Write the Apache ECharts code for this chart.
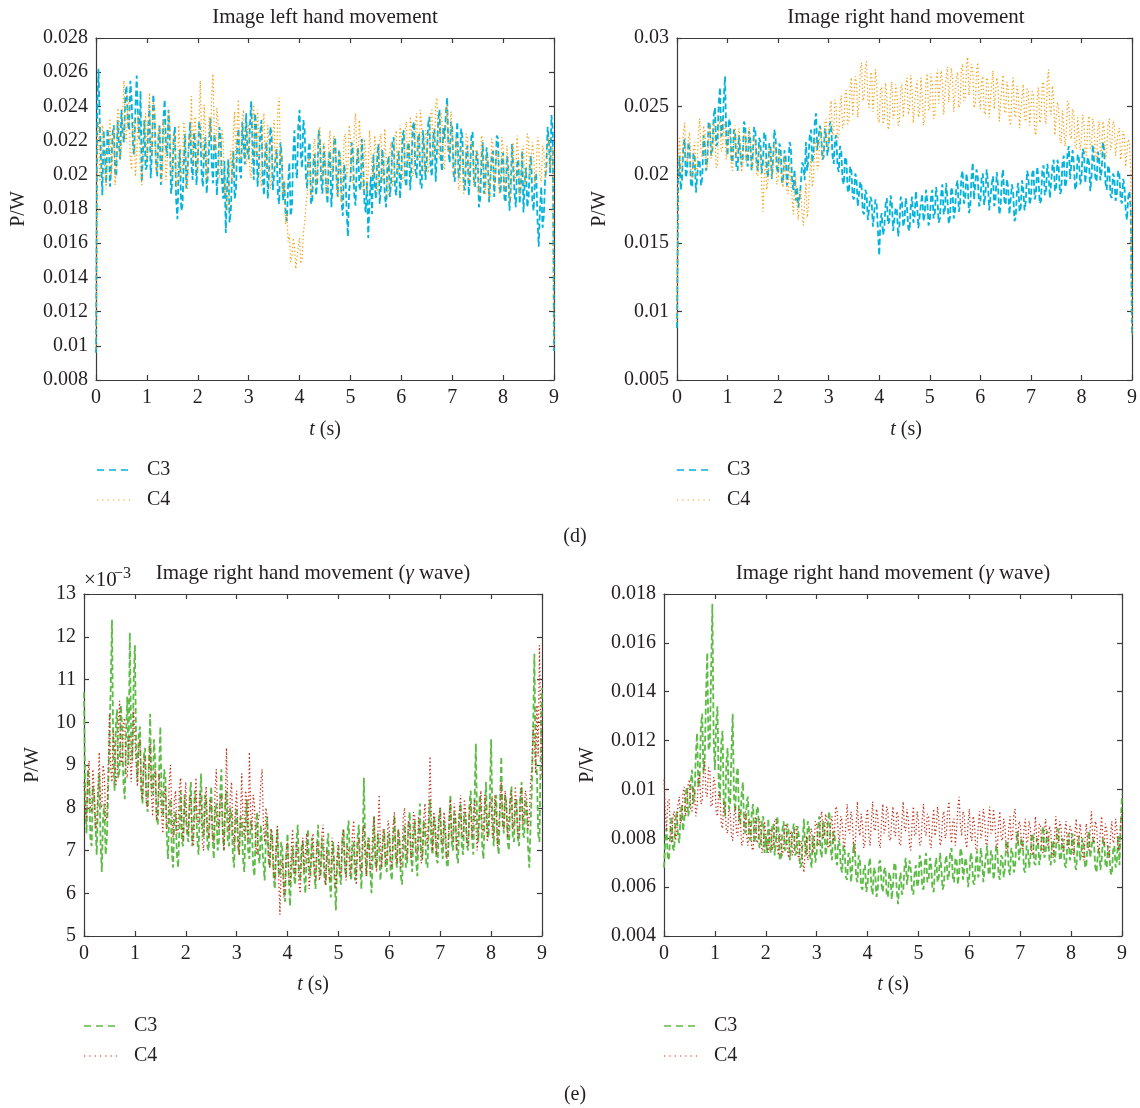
<!DOCTYPE html>
<html>
<head>
<meta charset="utf-8">
<title>Band power of C3 / C4</title>
<script src="https://cdn.jsdelivr.net/npm/echarts@6/dist/echarts.min.js"></script>
<style>
  html, body { margin: 0; padding: 0; background: #fff; }
  #chart { width: 1140px; height: 1108px; }
</style>
</head>
<body>
<div id="chart"></div>
<script>
// Sampling step of the power envelopes (seconds)
const STEP = 0.025;

// (d) Image left hand movement, P/W
const leftC3 = [
  0.0096, 0.0241, 0.0262, 0.0229, 0.0208, 0.0188, 0.0226, 0.0212, 0.0195, 0.0227,
  0.0221, 0.0193, 0.0204, 0.0224, 0.0229, 0.0201, 0.0199, 0.0232, 0.0218, 0.0209,
  0.0238, 0.0224, 0.0219, 0.0246, 0.0252, 0.0231, 0.0226, 0.0255, 0.0244, 0.0218,
  0.0212, 0.0239, 0.0258, 0.0234, 0.0221, 0.0249, 0.0196, 0.0214, 0.0232, 0.0203,
  0.0205, 0.0227, 0.0241, 0.0198, 0.0213, 0.0247, 0.0236, 0.0209, 0.0199, 0.0221,
  0.0229, 0.0194, 0.0208, 0.0233, 0.0244, 0.0216, 0.0211, 0.0238, 0.0223, 0.0189,
  0.0196, 0.0221, 0.0228, 0.0185, 0.0174, 0.0203, 0.0215, 0.0179, 0.0182, 0.0207,
  0.0224, 0.0192, 0.0203, 0.0218, 0.0231, 0.0206, 0.0197, 0.0225, 0.0219, 0.0194,
  0.0208, 0.0231, 0.0226, 0.0201, 0.0193, 0.0214, 0.0222, 0.0189, 0.0201, 0.0219,
  0.0233, 0.0207, 0.0195, 0.0224, 0.0217, 0.0188, 0.0204, 0.0228, 0.0221, 0.0197,
  0.0186, 0.0208, 0.0166, 0.0193, 0.0209, 0.0172, 0.0179, 0.0203, 0.0214, 0.0186,
  0.0191, 0.0219, 0.0227, 0.0202, 0.0198, 0.0231, 0.0218, 0.0206, 0.0236, 0.0214,
  0.0209, 0.0229, 0.0243, 0.0218, 0.0197, 0.0236, 0.0228, 0.0193, 0.0205, 0.0224,
  0.0232, 0.0199, 0.0188, 0.0213, 0.0219, 0.0186, 0.0201, 0.0228, 0.0224, 0.0191,
  0.0192, 0.0209, 0.0215, 0.0187, 0.0183, 0.0219, 0.0211, 0.0185, 0.0196, 0.0178,
  0.0173, 0.0194, 0.0207, 0.0176, 0.0181, 0.0212, 0.0226, 0.0203, 0.0198, 0.0229,
  0.0238, 0.0211, 0.0204, 0.0232, 0.0226, 0.0198, 0.0192, 0.0215, 0.0219, 0.0183,
  0.0185, 0.0208, 0.0212, 0.0188, 0.0197, 0.0226, 0.0221, 0.0196, 0.0189, 0.0217,
  0.0206, 0.0192, 0.0183, 0.0211, 0.0214, 0.0181, 0.0194, 0.0219, 0.0222, 0.0199,
  0.0187, 0.0215, 0.0209, 0.0184, 0.0176, 0.0206, 0.0201, 0.0179, 0.0164, 0.0191,
  0.0197, 0.0219, 0.0213, 0.0188, 0.0182, 0.0207, 0.0216, 0.0193, 0.0191, 0.0221,
  0.0205, 0.0184, 0.0178, 0.0196, 0.0163, 0.0185, 0.0199, 0.0177, 0.0212, 0.0194,
  0.0186, 0.0209, 0.0218, 0.0183, 0.0193, 0.0215, 0.0207, 0.0188, 0.0181, 0.0204,
  0.0211, 0.0187, 0.0196, 0.0219, 0.0222, 0.0192, 0.0188, 0.0209, 0.0214, 0.0186,
  0.0201, 0.0223, 0.0226, 0.0197, 0.0193, 0.0217, 0.0219, 0.0191, 0.0206, 0.0228,
  0.0231, 0.0203, 0.0198, 0.0221, 0.0224, 0.0194, 0.0192, 0.0226, 0.0215, 0.0197,
  0.0209, 0.0229, 0.0234, 0.0204, 0.0199, 0.0221, 0.0227, 0.0196, 0.0213, 0.0232,
  0.0238, 0.0209, 0.0202, 0.0228, 0.0221, 0.0236, 0.0245, 0.0214, 0.0207, 0.0231,
  0.0228, 0.0201, 0.0196, 0.0219, 0.0231, 0.0198, 0.0204, 0.0227, 0.0222, 0.0194,
  0.0191, 0.0213, 0.0217, 0.0188, 0.0199, 0.0222, 0.0225, 0.0197, 0.0193, 0.0214,
  0.0211, 0.0181, 0.0186, 0.0208, 0.0219, 0.0189, 0.0195, 0.0216, 0.0208, 0.0184,
  0.0183, 0.0211, 0.0214, 0.0187, 0.0201, 0.0223, 0.0221, 0.0193, 0.0189, 0.0209,
  0.0213, 0.0186, 0.0184, 0.0211, 0.0206, 0.0179, 0.0192, 0.0218, 0.0217, 0.0189,
  0.0181, 0.0206, 0.0209, 0.0183, 0.0195, 0.0214, 0.0178, 0.0196, 0.0204, 0.0181,
  0.0187, 0.0206, 0.0211, 0.0184, 0.0179, 0.0198, 0.0201, 0.0174, 0.0158, 0.0181,
  0.0193, 0.0169, 0.0176, 0.0197, 0.0205, 0.0228, 0.0219, 0.0201, 0.0235, 0.0226,
  0.0097
];
const leftC4 = [
  0.0098, 0.0224, 0.0231, 0.0196, 0.0203, 0.0229, 0.0224, 0.0201, 0.0192, 0.0213,
  0.0217, 0.0233, 0.0199, 0.0211, 0.0228, 0.0194, 0.0206, 0.0239, 0.0236, 0.0209,
  0.0214, 0.0238, 0.0255, 0.0221, 0.0219, 0.0246, 0.0241, 0.0208, 0.0203, 0.0227,
  0.0233, 0.0199, 0.0211, 0.0237, 0.0226, 0.0201, 0.0194, 0.0218, 0.0221, 0.0236,
  0.0207, 0.0229, 0.0248, 0.0216, 0.0212, 0.0243, 0.0239, 0.0204, 0.0201, 0.0225,
  0.0229, 0.0198, 0.0196, 0.0232, 0.0222, 0.0197, 0.0208, 0.0238, 0.0231, 0.0204,
  0.0199, 0.0221, 0.0224, 0.0195, 0.0193, 0.0229, 0.0217, 0.0198, 0.0204, 0.0231,
  0.0226, 0.0195, 0.0191, 0.0223, 0.0219, 0.0246, 0.0206, 0.0228, 0.0234, 0.0212,
  0.0201, 0.0231, 0.0255, 0.0219, 0.0209, 0.0241, 0.0228, 0.0197, 0.0196, 0.0234,
  0.0222, 0.0247, 0.0259, 0.0221, 0.0213, 0.0239, 0.0231, 0.0198, 0.0203, 0.0226,
  0.0219, 0.0188, 0.0195, 0.0181, 0.0178, 0.0204, 0.0214, 0.0196, 0.0226, 0.0237,
  0.0203, 0.0229, 0.0244, 0.0209, 0.0211, 0.0233, 0.0238, 0.0214, 0.0206, 0.0227,
  0.0229, 0.0201, 0.0198, 0.0232, 0.0241, 0.0214, 0.0209, 0.0238, 0.0224, 0.0199,
  0.0193, 0.0227, 0.0236, 0.0208, 0.0202, 0.0229, 0.0218, 0.0192, 0.0195, 0.0224,
  0.0232, 0.0204, 0.0207, 0.0239, 0.0245, 0.0209, 0.0213, 0.0189, 0.0196, 0.0171,
  0.0178, 0.0161, 0.0165, 0.0149, 0.0152, 0.0163, 0.0159, 0.0145, 0.0146, 0.0158,
  0.0163, 0.0148, 0.0151, 0.0166, 0.0172, 0.0182, 0.0189, 0.0211, 0.0208, 0.0187,
  0.0193, 0.0217, 0.0221, 0.0194, 0.0201, 0.0224, 0.0228, 0.0203, 0.0197, 0.0219,
  0.0215, 0.0188, 0.0192, 0.0219, 0.0226, 0.0202, 0.0199, 0.0223, 0.0218, 0.0191,
  0.0187, 0.0214, 0.0211, 0.0184, 0.0196, 0.0221, 0.0224, 0.0198, 0.0203, 0.0229,
  0.0221, 0.0198, 0.0195, 0.0228, 0.0236, 0.0211, 0.0207, 0.0232, 0.0219, 0.0194,
  0.0191, 0.0221, 0.0213, 0.0189, 0.0203, 0.0226, 0.0227, 0.0201, 0.0198, 0.0223,
  0.0216, 0.0189, 0.0193, 0.0221, 0.0224, 0.0196, 0.0201, 0.0227, 0.0211, 0.0186,
  0.0189, 0.0214, 0.0219, 0.0193, 0.0197, 0.0222, 0.0226, 0.0199, 0.0205, 0.0229,
  0.0222, 0.0196, 0.0198, 0.0226, 0.0231, 0.0204, 0.0209, 0.0234, 0.0227, 0.0199,
  0.0203, 0.0229, 0.0236, 0.0208, 0.0211, 0.0238, 0.0229, 0.0204, 0.0201, 0.0226,
  0.0224, 0.0201, 0.0206, 0.0235, 0.0238, 0.0209, 0.0213, 0.0241, 0.0245, 0.0216,
  0.0209, 0.0236, 0.0232, 0.0205, 0.0203, 0.0229, 0.0241, 0.0214, 0.0212, 0.0237,
  0.0226, 0.0201, 0.0199, 0.0222, 0.0219, 0.0191, 0.0193, 0.0217, 0.0214, 0.0189,
  0.0201, 0.0224, 0.0222, 0.0195, 0.0196, 0.0219, 0.0217, 0.0193, 0.0192, 0.0215,
  0.0213, 0.0189, 0.0197, 0.0223, 0.0221, 0.0194, 0.0188, 0.0211, 0.0209, 0.0186,
  0.0196, 0.0221, 0.0218, 0.0192, 0.0191, 0.0214, 0.0212, 0.0189, 0.0198, 0.0222,
  0.0216, 0.0191, 0.0194, 0.0217, 0.0209, 0.0184, 0.0186, 0.0212, 0.0219, 0.0196,
  0.0199, 0.0223, 0.0211, 0.0188, 0.0193, 0.0215, 0.0217, 0.0194, 0.0201, 0.0224,
  0.0221, 0.0197, 0.0198, 0.0219, 0.0212, 0.0195, 0.0203, 0.0222, 0.0219, 0.0199,
  0.0196, 0.0217, 0.0214, 0.0198, 0.0201, 0.0218, 0.0222, 0.0204, 0.0209, 0.0216,
  0.0099
];

// (d) Image right hand movement, P/W
const rightC3 = [
  0.0088, 0.0196, 0.0214, 0.0189, 0.0197, 0.0221, 0.0226, 0.0198, 0.0203, 0.0224,
  0.0219, 0.0193, 0.0191, 0.0216, 0.0213, 0.0187, 0.0186, 0.0211, 0.0209, 0.0192,
  0.0198, 0.0229, 0.0222, 0.0203, 0.0211, 0.0239, 0.0236, 0.0214, 0.0218, 0.0243,
  0.0249, 0.0221, 0.0223, 0.0252, 0.0264, 0.0228, 0.0231, 0.0256, 0.0272, 0.0226,
  0.0214, 0.0241, 0.0238, 0.0212, 0.0209, 0.0233, 0.0231, 0.0205, 0.0203, 0.0229,
  0.0228, 0.0207, 0.0212, 0.0239, 0.0236, 0.0211, 0.0206, 0.0232, 0.0226, 0.0203,
  0.0215, 0.0235, 0.0232, 0.0208, 0.0203, 0.0227, 0.0224, 0.0201, 0.0209, 0.0231,
  0.0229, 0.0204, 0.0198, 0.0223, 0.0221, 0.0197, 0.0211, 0.0233, 0.0227, 0.0205,
  0.0201, 0.0223, 0.0219, 0.0194, 0.0196, 0.0218, 0.0213, 0.0192, 0.0203, 0.0224,
  0.0221, 0.0197, 0.0189, 0.0204, 0.0181, 0.0191, 0.0176, 0.0183, 0.0194, 0.0209,
  0.0207, 0.0196, 0.0224, 0.0203, 0.0211, 0.0229, 0.0233, 0.0209, 0.0216, 0.0238,
  0.0245, 0.0218, 0.0219, 0.0236, 0.0231, 0.0211, 0.0213, 0.0234, 0.0228, 0.0214,
  0.0221, 0.0239, 0.0236, 0.0214, 0.0208, 0.0226, 0.0229, 0.0206, 0.0202, 0.0221,
  0.0217, 0.0196, 0.0193, 0.0213, 0.0211, 0.0189, 0.0187, 0.0206, 0.0203, 0.0184,
  0.0182, 0.0201, 0.0198, 0.0177, 0.0176, 0.0195, 0.0192, 0.0173, 0.0171, 0.0189,
  0.0186, 0.0167, 0.0168, 0.0184, 0.0181, 0.0162, 0.0163, 0.0182, 0.0178, 0.0159,
  0.0141, 0.0168, 0.0172, 0.0156, 0.0161, 0.0178, 0.0183, 0.0164, 0.0166, 0.0185,
  0.0179, 0.0159, 0.0158, 0.0176, 0.0174, 0.0155, 0.0163, 0.0184, 0.0181, 0.0162,
  0.0167, 0.0183, 0.0176, 0.0161, 0.0159, 0.0177, 0.0184, 0.0165, 0.0169, 0.0188,
  0.0178, 0.0161, 0.0162, 0.0179, 0.0186, 0.0166, 0.0171, 0.0189, 0.0181, 0.0163,
  0.0166, 0.0184, 0.0189, 0.0168, 0.0172, 0.0191, 0.0184, 0.0165, 0.0168, 0.0186,
  0.0193, 0.0171, 0.0175, 0.0194, 0.0182, 0.0164, 0.0169, 0.0191, 0.0187, 0.0168,
  0.0174, 0.0192, 0.0196, 0.0173, 0.0178, 0.0199, 0.0203, 0.0179, 0.0181, 0.0201,
  0.0194, 0.0172, 0.0176, 0.0198, 0.0209, 0.0182, 0.0183, 0.0204, 0.0198, 0.0177,
  0.0179, 0.0198, 0.0201, 0.0178, 0.0185, 0.0204, 0.0195, 0.0174, 0.0173, 0.0193,
  0.0199, 0.0177, 0.0181, 0.0202, 0.0192, 0.0171, 0.0176, 0.0197, 0.0204, 0.0181,
  0.0178, 0.0197, 0.0191, 0.0171, 0.0172, 0.0193, 0.0187, 0.0166, 0.0169, 0.0189,
  0.0194, 0.0173, 0.0176, 0.0196, 0.0189, 0.0174, 0.0181, 0.0203, 0.0199, 0.0178,
  0.0183, 0.0201, 0.0204, 0.0182, 0.0186, 0.0206, 0.0198, 0.0179, 0.0181, 0.0203,
  0.0207, 0.0185, 0.0189, 0.0208, 0.0201, 0.0183, 0.0184, 0.0206, 0.0211, 0.0188,
  0.0191, 0.0211, 0.0206, 0.0186, 0.0188, 0.0209, 0.0214, 0.0191, 0.0194, 0.0216,
  0.0221, 0.0197, 0.0196, 0.0218, 0.0208, 0.0189, 0.0192, 0.0215, 0.0212, 0.0193,
  0.0197, 0.0219, 0.0216, 0.0194, 0.0193, 0.0213, 0.0209, 0.0188, 0.0199, 0.0222,
  0.0221, 0.0198, 0.0195, 0.0217, 0.0212, 0.0196, 0.0203, 0.0224, 0.0218, 0.0194,
  0.0189, 0.0207, 0.0204, 0.0185, 0.0183, 0.0201, 0.0198, 0.0181, 0.0186, 0.0203,
  0.0201, 0.0182, 0.0179, 0.0197, 0.0192, 0.0174, 0.0167, 0.0184, 0.0188, 0.0175,
  0.0082
];
const rightC4 = [
  0.0093, 0.0211, 0.0227, 0.0204, 0.0201, 0.0229, 0.0238, 0.0214, 0.0209, 0.0226,
  0.0231, 0.0203, 0.0196, 0.0219, 0.0224, 0.0199, 0.0205, 0.0232, 0.0241, 0.0216,
  0.0213, 0.0236, 0.0232, 0.0209, 0.0204, 0.0227, 0.0237, 0.0212, 0.0216, 0.0239,
  0.0228, 0.0205, 0.0208, 0.0233, 0.0241, 0.0217, 0.0219, 0.0238, 0.0234, 0.0211,
  0.0211, 0.0233, 0.0229, 0.0206, 0.0203, 0.0226, 0.0236, 0.0213, 0.0214, 0.0234,
  0.0225, 0.0202, 0.0207, 0.0229, 0.0231, 0.0209, 0.0218, 0.0235, 0.0226, 0.0204,
  0.0206, 0.0228, 0.0223, 0.0201, 0.0199, 0.0221, 0.0218, 0.0192, 0.0173, 0.0198,
  0.0212, 0.0189, 0.0196, 0.0219, 0.0221, 0.0198, 0.0203, 0.0224, 0.0215, 0.0193,
  0.0197, 0.0218, 0.0219, 0.0196, 0.0191, 0.0214, 0.0213, 0.0188, 0.0186, 0.0209,
  0.0208, 0.0184, 0.0171, 0.0193, 0.0199, 0.0176, 0.0167, 0.0186, 0.0189, 0.0171,
  0.0163, 0.0181, 0.0194, 0.0169, 0.0176, 0.0201, 0.0212, 0.0191, 0.0198, 0.0221,
  0.0226, 0.0204, 0.0207, 0.0229, 0.0234, 0.0211, 0.0216, 0.0238, 0.0241, 0.0219,
  0.0223, 0.0246, 0.0254, 0.0229, 0.0231, 0.0255, 0.0249, 0.0226, 0.0228, 0.0251,
  0.0258, 0.0234, 0.0236, 0.0259, 0.0262, 0.0237, 0.0239, 0.0264, 0.0271, 0.0243,
  0.0244, 0.0272, 0.0268, 0.0242, 0.0251, 0.0276, 0.0282, 0.0254, 0.0257, 0.0279,
  0.0283, 0.0255, 0.0249, 0.0273, 0.0275, 0.0246, 0.0258, 0.0277, 0.0267, 0.0241,
  0.0238, 0.0262, 0.0264, 0.0237, 0.0242, 0.0267, 0.0259, 0.0233, 0.0236, 0.0261,
  0.0268, 0.0241, 0.0245, 0.0266, 0.0261, 0.0236, 0.0239, 0.0263, 0.0266, 0.0242,
  0.0243, 0.0266, 0.0271, 0.0244, 0.0248, 0.0273, 0.0262, 0.0238, 0.0237, 0.0264,
  0.0269, 0.0242, 0.0246, 0.0271, 0.0258, 0.0236, 0.0241, 0.0267, 0.0274, 0.0247,
  0.0249, 0.0274, 0.0266, 0.0241, 0.0243, 0.0269, 0.0277, 0.0252, 0.0251, 0.0276,
  0.0268, 0.0244, 0.0245, 0.0272, 0.0279, 0.0253, 0.0254, 0.0278, 0.0271, 0.0246,
  0.0247, 0.0271, 0.0275, 0.0249, 0.0252, 0.0278, 0.0281, 0.0254, 0.0256, 0.0279,
  0.0286, 0.0258, 0.0259, 0.0281, 0.0277, 0.0249, 0.0251, 0.0276, 0.0282, 0.0255,
  0.0248, 0.0269, 0.0272, 0.0246, 0.0244, 0.0271, 0.0269, 0.0242, 0.0241, 0.0266,
  0.0276, 0.0248, 0.0249, 0.0271, 0.0265, 0.0239, 0.0238, 0.0264, 0.0273, 0.0247,
  0.0245, 0.0268, 0.0263, 0.0239, 0.0236, 0.0262, 0.0271, 0.0244, 0.0242, 0.0265,
  0.0259, 0.0234, 0.0233, 0.0258, 0.0266, 0.0241, 0.0239, 0.0263, 0.0261, 0.0236,
  0.0235, 0.0261, 0.0259, 0.0232, 0.0229, 0.0255, 0.0264, 0.0238, 0.0241, 0.0266,
  0.0268, 0.0242, 0.0237, 0.0269, 0.0277, 0.0248, 0.0244, 0.0265, 0.0256, 0.0229,
  0.0228, 0.0253, 0.0249, 0.0225, 0.0223, 0.0247, 0.0246, 0.0221, 0.0231, 0.0254,
  0.0252, 0.0229, 0.0226, 0.0248, 0.0244, 0.0221, 0.0219, 0.0242, 0.0241, 0.0218,
  0.0226, 0.0244, 0.0238, 0.0216, 0.0214, 0.0237, 0.0243, 0.0219, 0.0221, 0.0241,
  0.0236, 0.0213, 0.0211, 0.0234, 0.0239, 0.0215, 0.0218, 0.0239, 0.0233, 0.0212,
  0.0216, 0.0236, 0.0241, 0.0218, 0.0222, 0.0239, 0.0237, 0.0214, 0.0213, 0.0231,
  0.0234, 0.0211, 0.0219, 0.0232, 0.0228, 0.0206, 0.0207, 0.0226, 0.0224, 0.0203,
  0.0083
];

// (e) Image right hand movement, gamma wave, P/W in units of 1e-3
const gammaAC3 = [
  10.7, 8.1, 7.4, 8.9, 8.6, 7.3, 7.1, 8.5, 8.3, 7.6,
  6.9, 8.2, 8.8, 7.2, 6.5, 7.8, 8.1, 6.9, 7.3, 8.4,
  9.6, 10.8, 12.4, 9.3, 8.4, 9.9, 10.3, 8.7, 8.9, 10.4,
  9.8, 8.6, 8.2, 9.5, 10.6, 9.0, 12.1, 9.7, 9.1, 10.9,
  11.8, 9.4, 8.6, 9.7, 9.9, 8.4, 8.1, 9.2, 9.4, 8.2,
  7.9, 9.0, 10.2, 8.5, 8.3, 9.6, 9.1, 7.8, 7.6, 8.8,
  9.9, 8.2, 7.8, 8.9, 8.7, 7.4, 6.8, 7.9, 8.2, 7.0,
  6.6, 7.7, 7.9, 6.9, 6.6, 7.5, 8.4, 7.2, 7.1, 8.3,
  8.3, 7.4, 7.2, 8.2, 8.6, 7.1, 7.4, 8.4, 8.1, 7.3,
  6.9, 7.9, 8.8, 7.6, 7.3, 8.3, 8.2, 7.1, 7.0, 8.0,
  8.5, 7.4, 6.8, 7.9, 8.1, 7.0, 7.2, 8.3, 8.9, 7.5,
  7.0, 8.1, 8.4, 7.2, 7.1, 8.0, 7.8, 6.9, 6.6, 7.7,
  8.0, 7.1, 6.9, 7.8, 7.7, 6.8, 6.5, 7.6, 8.2, 7.0,
  6.8, 7.7, 7.5, 6.6, 6.4, 7.4, 7.9, 6.9, 6.7, 7.6,
  7.6, 6.7, 6.3, 7.3, 7.8, 6.8, 6.6, 7.5, 7.3, 6.4,
  6.1, 7.0, 7.5, 6.5, 6.4, 7.2, 7.0, 6.2, 5.8, 6.9,
  7.4, 6.3, 5.7, 6.6, 7.1, 6.4, 6.2, 7.2, 7.6, 6.5,
  6.3, 7.1, 7.2, 6.4, 6.0, 6.9, 7.5, 6.6, 6.4, 7.3,
  7.3, 6.5, 6.1, 7.0, 7.6, 6.6, 6.4, 7.3, 7.0, 6.3,
  6.2, 7.1, 7.4, 6.4, 5.9, 6.8, 7.2, 6.3, 5.6, 6.7,
  7.1, 6.4, 6.2, 7.2, 7.5, 6.6, 6.4, 7.4, 7.7, 6.8,
  6.3, 7.1, 7.2, 6.3, 6.5, 7.3, 7.6, 6.7, 6.1, 7.0,
  8.7, 7.2, 6.4, 7.1, 7.3, 6.5, 6.0, 6.9, 7.8, 6.7,
  6.6, 7.4, 7.1, 6.3, 6.3, 7.2, 7.5, 6.6, 6.5, 7.3,
  7.4, 6.5, 6.3, 7.3, 7.8, 6.8, 6.6, 7.5, 7.2, 6.4,
  6.2, 7.1, 7.6, 6.6, 6.7, 7.6, 7.9, 6.9, 6.5, 7.4,
  7.7, 6.8, 6.4, 7.4, 8.1, 7.0, 6.8, 7.7, 7.5, 6.7,
  6.6, 7.6, 8.2, 7.1, 6.9, 7.8, 7.6, 6.8, 6.7, 7.7,
  8.0, 7.1, 6.8, 7.7, 7.4, 6.7, 6.6, 7.6, 8.3, 7.2,
  7.0, 7.9, 7.7, 6.9, 6.7, 7.8, 8.1, 7.1, 6.9, 7.9,
  7.8, 7.1, 7.0, 8.1, 8.4, 7.3, 6.9, 8.2, 9.5, 7.6,
  7.2, 8.3, 8.0, 7.1, 6.8, 7.9, 8.6, 7.4, 7.3, 8.2,
  9.6, 7.8, 7.1, 8.0, 8.3, 7.2, 6.9, 8.1, 9.2, 7.7,
  7.4, 8.3, 8.1, 7.2, 7.0, 8.2, 8.5, 7.3, 7.2, 8.1,
  8.2, 7.3, 7.1, 8.3, 8.6, 7.4, 7.3, 8.2, 8.0, 7.1,
  6.6, 7.6, 8.4, 9.8, 11.6, 9.1, 8.8, 7.4, 7.2, 9.3,
  10.8
];
const gammaAC4 = [
  8.6, 7.9, 7.7, 8.7, 9.1, 8.0, 7.9, 8.9, 8.4, 7.5,
  7.6, 8.5, 9.3, 8.1, 8.0, 9.0, 8.8, 7.7, 7.8, 8.9,
  10.2, 8.9, 8.6, 9.8, 9.4, 8.5, 8.8, 9.9, 10.5, 9.1,
  9.0, 10.0, 10.1, 8.8, 8.7, 9.6, 9.7, 8.6, 9.2, 10.3,
  10.3, 9.0, 8.5, 9.4, 9.6, 8.4, 8.2, 9.1, 9.2, 8.1,
  8.0, 8.9, 9.5, 8.3, 7.8, 8.7, 8.9, 7.7, 7.9, 8.8,
  8.8, 7.8, 7.4, 8.3, 8.5, 7.5, 7.6, 8.6, 9.0, 7.9,
  7.3, 8.2, 8.4, 7.4, 7.5, 8.5, 8.7, 7.6, 7.2, 8.1,
  8.6, 7.5, 7.4, 8.2, 8.3, 7.3, 7.1, 8.0, 8.7, 7.7,
  7.6, 8.4, 8.2, 7.2, 7.0, 7.9, 8.5, 7.6, 7.3, 8.2,
  8.1, 7.3, 7.2, 8.4, 8.9, 7.8, 7.5, 8.2, 8.3, 7.4,
  7.0, 8.0, 9.4, 8.1, 7.4, 8.3, 8.6, 7.5, 7.1, 8.0,
  8.4, 7.4, 6.9, 7.8, 8.8, 7.6, 7.3, 8.4, 8.2, 7.2,
  9.3, 7.9, 7.5, 8.3, 8.1, 7.1, 6.9, 7.7, 7.9, 8.6,
  8.9, 7.6, 7.2, 8.0, 7.8, 6.9, 6.6, 7.5, 7.4, 6.5,
  6.3, 7.1, 7.6, 6.4, 5.5, 6.6, 6.8, 5.9, 6.1, 7.0,
  7.2, 6.4, 6.2, 7.1, 7.5, 6.6, 6.4, 7.2, 7.0, 6.2,
  6.0, 6.9, 7.3, 6.5, 6.5, 7.4, 6.9, 6.1, 6.1, 7.0,
  7.4, 6.6, 6.3, 7.2, 7.1, 6.3, 6.5, 7.4, 7.6, 6.7,
  6.2, 7.0, 7.0, 6.3, 6.4, 7.3, 7.3, 6.5, 6.1, 6.9,
  7.2, 6.5, 6.4, 7.3, 7.5, 6.7, 6.3, 7.1, 7.0, 6.4,
  6.6, 7.4, 7.7, 6.8, 6.2, 7.0, 7.3, 6.6, 6.5, 7.4,
  7.6, 6.8, 6.4, 7.3, 7.2, 6.5, 6.7, 7.5, 7.8, 6.9,
  6.5, 7.4, 8.3, 7.1, 6.6, 7.5, 7.4, 6.7, 6.8, 7.7,
  7.5, 6.8, 6.6, 7.6, 7.9, 7.0, 6.7, 7.5, 7.3, 6.6,
  6.9, 7.8, 8.0, 7.1, 6.8, 7.7, 7.6, 6.8, 7.0, 7.9,
  7.8, 7.0, 6.9, 7.8, 7.4, 6.7, 6.8, 7.7, 8.1, 7.3,
  7.1, 8.0, 9.2, 7.8, 7.0, 7.9, 7.7, 6.9, 6.9, 7.8,
  8.0, 7.2, 7.1, 7.9, 7.6, 6.8, 6.9, 7.8, 8.2, 7.3,
  7.2, 8.1, 7.8, 7.0, 7.0, 7.9, 8.3, 7.4, 7.3, 8.2,
  7.9, 7.2, 7.1, 8.0, 8.1, 7.3, 7.3, 8.2, 7.7, 7.0,
  7.0, 7.9, 8.4, 7.5, 7.4, 8.3, 8.0, 7.2, 7.2, 8.1,
  8.2, 7.3, 7.4, 8.3, 7.9, 7.1, 7.1, 8.0, 8.6, 7.6,
  7.5, 8.4, 8.1, 7.3, 7.3, 8.2, 8.4, 7.5, 7.6, 8.5,
  8.0, 7.3, 7.4, 8.3, 8.5, 7.6, 7.6, 8.4, 8.2, 7.5,
  7.8, 8.6, 8.9, 9.9, 9.6, 8.8, 10.4, 9.2, 11.8, 10.1,
  8.7
];

// (e) Image right hand movement, gamma wave, P/W
const gammaBC3 = [
  0.0068, 0.0079, 0.0084, 0.0071, 0.0072, 0.0083, 0.0089, 0.0076, 0.0075, 0.0087,
  0.0091, 0.0081, 0.0078, 0.0089, 0.0094, 0.0083, 0.0088, 0.0098, 0.0101, 0.0089,
  0.0092, 0.0103, 0.0108, 0.0094, 0.0097, 0.0114, 0.0123, 0.0101, 0.0104, 0.0126,
  0.0131, 0.0107, 0.0112, 0.0138, 0.0156, 0.0116, 0.0118, 0.0147, 0.0176, 0.0121,
  0.0108, 0.0127, 0.0134, 0.0103, 0.0096, 0.0119, 0.0124, 0.0094, 0.0089, 0.0111,
  0.0117, 0.0092, 0.0093, 0.0115, 0.0131, 0.0097, 0.0091, 0.0106, 0.0109, 0.0088,
  0.0086, 0.0098, 0.0103, 0.0084, 0.0082, 0.0095, 0.0097, 0.0081, 0.0079, 0.0091,
  0.0094, 0.0078, 0.0081, 0.0093, 0.0092, 0.0076, 0.0077, 0.0088, 0.0089, 0.0074,
  0.0081, 0.0074, 0.0088, 0.0077, 0.0074, 0.0085, 0.0086, 0.0073, 0.0079, 0.0089,
  0.0084, 0.0071, 0.0072, 0.0083, 0.0087, 0.0075, 0.0076, 0.0086, 0.0083, 0.0071,
  0.0071, 0.0082, 0.0086, 0.0073, 0.0074, 0.0085, 0.0081, 0.0068, 0.0069, 0.0079,
  0.0088, 0.0075, 0.0073, 0.0087, 0.0084, 0.0072, 0.0068, 0.0081, 0.0079, 0.0070,
  0.0074, 0.0084, 0.0089, 0.0075, 0.0072, 0.0087, 0.0085, 0.0073, 0.0077, 0.0088,
  0.0091, 0.0076, 0.0071, 0.0082, 0.0083, 0.0071, 0.0069, 0.0079, 0.0078, 0.0068,
  0.0066, 0.0077, 0.0075, 0.0064, 0.0063, 0.0074, 0.0073, 0.0062, 0.0068, 0.0078,
  0.0076, 0.0064, 0.0062, 0.0073, 0.0071, 0.0060, 0.0059, 0.0068, 0.0069, 0.0058,
  0.0061, 0.0069, 0.0072, 0.0060, 0.0057, 0.0068, 0.0066, 0.0056, 0.0059, 0.0070,
  0.0071, 0.0061, 0.0058, 0.0067, 0.0068, 0.0057, 0.0056, 0.0066, 0.0064, 0.0055,
  0.0061, 0.0070, 0.0069, 0.0058, 0.0053, 0.0062, 0.0066, 0.0057, 0.0058, 0.0068,
  0.0072, 0.0061, 0.0061, 0.0071, 0.0067, 0.0058, 0.0057, 0.0066, 0.0069, 0.0060,
  0.0062, 0.0073, 0.0071, 0.0060, 0.0059, 0.0070, 0.0074, 0.0062, 0.0063, 0.0072,
  0.0069, 0.0059, 0.0058, 0.0068, 0.0072, 0.0062, 0.0064, 0.0074, 0.0068, 0.0059,
  0.0061, 0.0070, 0.0073, 0.0063, 0.0065, 0.0075, 0.0076, 0.0064, 0.0062, 0.0072,
  0.0071, 0.0061, 0.0066, 0.0076, 0.0074, 0.0063, 0.0063, 0.0072, 0.0069, 0.0060,
  0.0064, 0.0074, 0.0072, 0.0062, 0.0061, 0.0070, 0.0075, 0.0064, 0.0066, 0.0076,
  0.0071, 0.0062, 0.0062, 0.0073, 0.0077, 0.0066, 0.0065, 0.0075, 0.0073, 0.0063,
  0.0067, 0.0077, 0.0075, 0.0065, 0.0063, 0.0073, 0.0072, 0.0064, 0.0068, 0.0079,
  0.0078, 0.0067, 0.0065, 0.0076, 0.0074, 0.0066, 0.0069, 0.0079, 0.0083, 0.0071,
  0.0071, 0.0080, 0.0078, 0.0067, 0.0066, 0.0077, 0.0076, 0.0068, 0.0072, 0.0082,
  0.0081, 0.0070, 0.0069, 0.0080, 0.0079, 0.0069, 0.0073, 0.0081, 0.0085, 0.0072,
  0.0074, 0.0083, 0.0081, 0.0071, 0.0069, 0.0078, 0.0079, 0.0070, 0.0075, 0.0084,
  0.0083, 0.0072, 0.0071, 0.0080, 0.0078, 0.0069, 0.0068, 0.0077, 0.0082, 0.0071,
  0.0073, 0.0082, 0.0079, 0.0069, 0.0067, 0.0076, 0.0081, 0.0071, 0.0074, 0.0080,
  0.0077, 0.0068, 0.0069, 0.0079, 0.0083, 0.0072, 0.0072, 0.0080, 0.0078, 0.0068,
  0.0066, 0.0074, 0.0076, 0.0067, 0.0071, 0.0080, 0.0079, 0.0069, 0.0068, 0.0077,
  0.0074, 0.0066, 0.0065, 0.0075, 0.0077, 0.0068, 0.0071, 0.0081, 0.0069, 0.0086,
  0.0098
];
const gammaBC4 = [
  0.0104, 0.0091, 0.0083, 0.0095, 0.0096, 0.0084, 0.0078, 0.0089, 0.0091, 0.0079,
  0.0082, 0.0094, 0.0097, 0.0086, 0.0088, 0.0099, 0.0101, 0.0089, 0.0093, 0.0102,
  0.0104, 0.0092, 0.0091, 0.0101, 0.0099, 0.0089, 0.0093, 0.0104, 0.0106, 0.0094,
  0.0095, 0.0107, 0.0112, 0.0098, 0.0097, 0.0109, 0.0108, 0.0093, 0.0094, 0.0105,
  0.0103, 0.0091, 0.0089, 0.0099, 0.0097, 0.0086, 0.0084, 0.0095, 0.0094, 0.0083,
  0.0082, 0.0092, 0.0091, 0.0081, 0.0079, 0.0089, 0.0093, 0.0082, 0.0081, 0.0092,
  0.0088, 0.0077, 0.0078, 0.0087, 0.0091, 0.0081, 0.0077, 0.0088, 0.0086, 0.0076,
  0.0075, 0.0085, 0.0089, 0.0078, 0.0079, 0.0088, 0.0085, 0.0074, 0.0076, 0.0087,
  0.0087, 0.0076, 0.0074, 0.0083, 0.0084, 0.0075, 0.0078, 0.0087, 0.0088, 0.0077,
  0.0073, 0.0082, 0.0082, 0.0073, 0.0076, 0.0085, 0.0086, 0.0075, 0.0072, 0.0081,
  0.0083, 0.0073, 0.0075, 0.0084, 0.0085, 0.0074, 0.0071, 0.0078, 0.0079, 0.0070,
  0.0066, 0.0075, 0.0081, 0.0071, 0.0073, 0.0083, 0.0084, 0.0074, 0.0077, 0.0087,
  0.0086, 0.0077, 0.0078, 0.0088, 0.0091, 0.0080, 0.0081, 0.0090, 0.0087, 0.0076,
  0.0077, 0.0086, 0.0089, 0.0078, 0.0083, 0.0093, 0.0092, 0.0081, 0.0079, 0.0089,
  0.0087, 0.0078, 0.0076, 0.0086, 0.0094, 0.0083, 0.0082, 0.0091, 0.0088, 0.0077,
  0.0074, 0.0085, 0.0095, 0.0084, 0.0081, 0.0090, 0.0086, 0.0076, 0.0078, 0.0089,
  0.0092, 0.0081, 0.0077, 0.0087, 0.0095, 0.0084, 0.0083, 0.0092, 0.0089, 0.0078,
  0.0076, 0.0087, 0.0094, 0.0082, 0.0084, 0.0093, 0.0091, 0.0080, 0.0079, 0.0088,
  0.0093, 0.0082, 0.0081, 0.0091, 0.0089, 0.0078, 0.0077, 0.0087, 0.0095, 0.0084,
  0.0083, 0.0092, 0.0088, 0.0077, 0.0075, 0.0086, 0.0093, 0.0081, 0.0082, 0.0091,
  0.0087, 0.0077, 0.0078, 0.0088, 0.0094, 0.0083, 0.0081, 0.0090, 0.0089, 0.0078,
  0.0076, 0.0086, 0.0092, 0.0081, 0.0084, 0.0093, 0.0088, 0.0077, 0.0079, 0.0089,
  0.0091, 0.0080, 0.0082, 0.0092, 0.0095, 0.0083, 0.0078, 0.0087, 0.0088, 0.0077,
  0.0084, 0.0093, 0.0097, 0.0085, 0.0081, 0.0091, 0.0089, 0.0079, 0.0076, 0.0086,
  0.0092, 0.0081, 0.0079, 0.0089, 0.0086, 0.0076, 0.0075, 0.0085, 0.0091, 0.0080,
  0.0082, 0.0092, 0.0088, 0.0078, 0.0077, 0.0087, 0.0093, 0.0082, 0.0083, 0.0092,
  0.0087, 0.0078, 0.0076, 0.0086, 0.0091, 0.0080, 0.0079, 0.0088, 0.0085, 0.0075,
  0.0074, 0.0084, 0.0089, 0.0079, 0.0081, 0.0090, 0.0092, 0.0080, 0.0078, 0.0087,
  0.0086, 0.0077, 0.0075, 0.0084, 0.0088, 0.0078, 0.0079, 0.0087, 0.0084, 0.0074,
  0.0073, 0.0082, 0.0089, 0.0079, 0.0077, 0.0086, 0.0085, 0.0075, 0.0074, 0.0083,
  0.0088, 0.0078, 0.0076, 0.0085, 0.0083, 0.0074, 0.0072, 0.0081, 0.0089, 0.0079,
  0.0078, 0.0087, 0.0085, 0.0076, 0.0074, 0.0083, 0.0087, 0.0077, 0.0076, 0.0085,
  0.0084, 0.0075, 0.0073, 0.0082, 0.0088, 0.0078, 0.0077, 0.0086, 0.0082, 0.0073,
  0.0071, 0.0080, 0.0086, 0.0077, 0.0075, 0.0084, 0.0091, 0.0080, 0.0078, 0.0087,
  0.0085, 0.0076, 0.0074, 0.0083, 0.0089, 0.0079, 0.0077, 0.0086, 0.0083, 0.0073,
  0.0072, 0.0081, 0.0087, 0.0078, 0.0079, 0.0088, 0.0084, 0.0075, 0.0076, 0.0086,
  0.0091
];

// Axis ranges: [min, max, interval]
const timeRange = [0, 9, 1];
const leftRange = [0.008, 0.028, 0.002];
const rightRange = [0.005, 0.03, 0.005];
const gammaARange = [5, 13, 1];
const gammaBRange = [0.004, 0.018, 0.002];

const SERIF = '"Liberation Serif", "DejaVu Serif", serif';
const INK = '#231f20';
const COLORS = { c3: '#03b3dc', c4: '#f7a21b', g3: '#5dbb46', g4: '#c1331c' };

const panels = [
  { left: 96,  top: 38,  y: leftRange,   c3: leftC3,   c4: leftC4,   col3: COLORS.c3, col4: COLORS.c4 },
  { left: 677, top: 38,  y: rightRange,  c3: rightC3,  c4: rightC4,  col3: COLORS.c3, col4: COLORS.c4 },
  { left: 84,  top: 594, y: gammaARange, c3: gammaAC3, c4: gammaAC4, col3: COLORS.g3, col4: COLORS.g4 },
  { left: 664, top: 594, y: gammaBRange, c3: gammaBC3, c4: gammaBC4, col3: COLORS.g3, col4: COLORS.g4 }
];
const PW = 458, PH = 342;

const toPairs = vals => vals.map((v, i) => [i * STEP, v]);

const grid = [], xAxis = [], yAxis = [], series = [];
const axisLine = { show: true, onZero: false, lineStyle: { color: '#3a3a3a', width: 1.2 } };
const tick = { show: true, inside: true, length: 5, lineStyle: { color: '#3a3a3a', width: 1.2 } };
const label = { fontFamily: SERIF, fontSize: 20, color: INK };

panels.forEach((p, gi) => {
  grid.push({ left: p.left, top: p.top, width: PW, height: PH, containLabel: false });
  ['bottom', 'top'].forEach((pos, k) => {
    xAxis.push({
      gridIndex: gi, type: 'value', position: pos,
      min: timeRange[0], max: timeRange[1], interval: timeRange[2],
      axisLine, axisTick: tick, splitLine: { show: false },
      axisLabel: k === 0 ? Object.assign({ margin: 8 }, label) : { show: false }
    });
  });
  ['left', 'right'].forEach((pos, k) => {
    yAxis.push({
      gridIndex: gi, type: 'value', position: pos,
      min: p.y[0], max: p.y[1], interval: p.y[2],
      axisLine, axisTick: tick, splitLine: { show: false },
      axisLabel: k === 0 ? Object.assign({ margin: 8 }, label) : { show: false }
    });
  });
  const base = { type: 'line', xAxisIndex: gi * 2, yAxisIndex: gi * 2, showSymbol: false,
                 symbol: 'none', silent: true, animation: false, sampling: null };
  series.push(Object.assign({}, base, {
    name: 'C3', data: toPairs(p.c3),
    lineStyle: { color: p.col3, width: 1.8, type: [6, 3] }
  }));
  series.push(Object.assign({}, base, {
    name: 'C4', data: toPairs(p.c4),
    lineStyle: { color: p.col4, width: 1.3, type: [1.3, 2.5] }
  }));
});

// Text helpers
function txt(x, y, text, opts) {
  return Object.assign({
    type: 'text', x, y, silent: true,
    style: Object.assign({
      text, font: '20px ' + SERIF, fill: INK,
      textAlign: 'center', textVerticalAlign: 'middle',
      align: 'center', verticalAlign: 'middle'
    }, (opts && opts.style) || {})
  }, (opts && opts.el) || {});
}
const italicRich = { i: { fontStyle: 'italic', fontFamily: SERIF, fontSize: 20, fill: INK } };
const italicRichT = { i: { fontStyle: 'italic', fontFamily: SERIF, fontSize: 21, fill: INK } };

const graphic = [];
// Panel titles
graphic.push(txt(325, 17, 'Image left hand movement', { style: { font: '21px ' + SERIF } }));
graphic.push(txt(906, 17, 'Image right hand movement', { style: { font: '21px ' + SERIF } }));
graphic.push(txt(313, 573, 'Image right hand movement ({i|γ} wave)', { style: { font: '21px ' + SERIF, rich: italicRichT } }));
graphic.push(txt(893, 573, 'Image right hand movement ({i|γ} wave)', { style: { font: '21px ' + SERIF, rich: italicRichT } }));
// Axis names
[[325, 430], [906, 430], [313, 985], [893, 985]].forEach(([x, y]) =>
  graphic.push(txt(x, y, '{i|t} (s)', { style: { rich: italicRich } })));
[[19, 209], [600, 209], [33, 765], [588, 765]].forEach(([x, y]) =>
  graphic.push(txt(x, y, 'P/W', { el: { rotation: Math.PI / 2 } })));
// Exponent of the gamma (a) axis
graphic.push(txt(84, 580, '×10', { style: { textAlign: 'left', align: 'left', font: '21px ' + SERIF } }));
graphic.push(txt(114, 574, '−3', { style: { textAlign: 'left', align: 'left', font: '16px ' + SERIF } }));
// Sub-figure tags
graphic.push(txt(575, 537, '(d)'));
graphic.push(txt(575, 1095, '(e)'));

// Legends
function legend(x0, y0, col3, col4) {
  const items = [];
  items.push({ type: 'line', silent: true,
    shape: { x1: x0, y1: y0, x2: x0 + 36, y2: y0 },
    style: { stroke: col3, lineWidth: 1.6, lineDash: [7, 5] } });
  items.push({ type: 'line', silent: true,
    shape: { x1: x0, y1: y0 + 30, x2: x0 + 36, y2: y0 + 30 },
    style: { stroke: col4, lineWidth: 1.2, lineDash: [1.3, 4] } });
  items.push(txt(x0 + 50, y0, 'C3', { style: { textAlign: 'left', align: 'left' } }));
  items.push(txt(x0 + 50, y0 + 30, 'C4', { style: { textAlign: 'left', align: 'left' } }));
  return items;
}
graphic.push(...legend(97, 470, COLORS.c3, COLORS.c4));
graphic.push(...legend(677, 470, COLORS.c3, COLORS.c4));
graphic.push(...legend(84, 1026, COLORS.g3, COLORS.g4));
graphic.push(...legend(664, 1026, COLORS.g3, COLORS.g4));

const chart = echarts.init(document.getElementById('chart'), null, { renderer: 'canvas' });
chart.setOption({
  backgroundColor: '#ffffff',
  animation: false,
  grid, xAxis, yAxis, series, graphic
});
</script>
</body>
</html>
